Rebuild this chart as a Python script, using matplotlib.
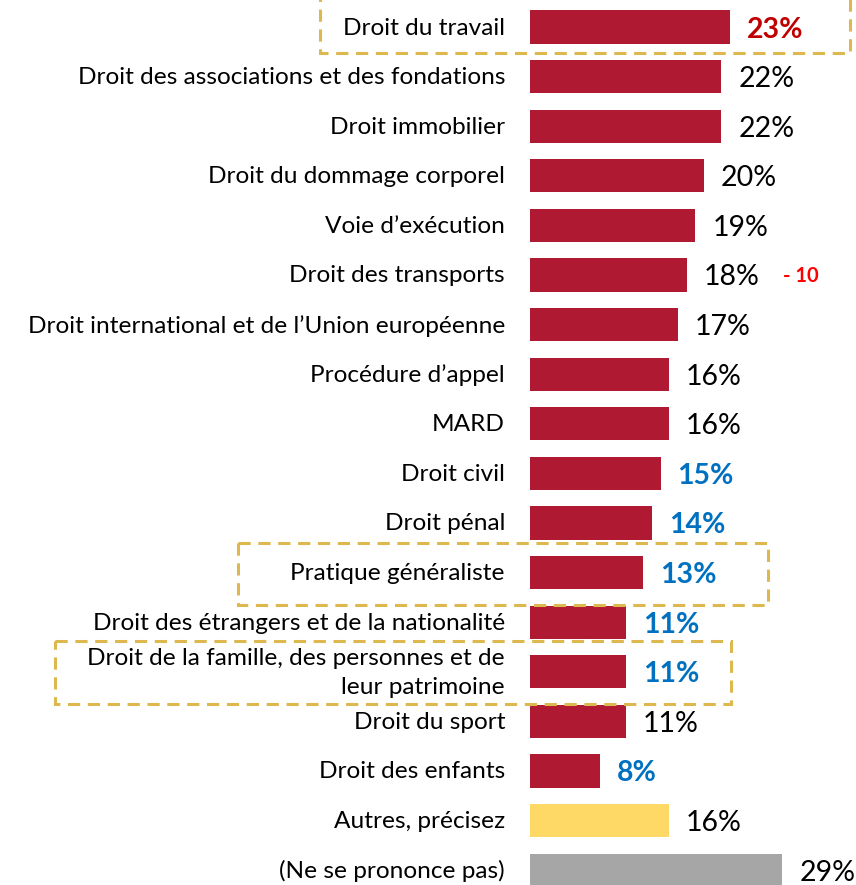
import matplotlib

matplotlib.use("Agg")
import matplotlib.pyplot as plt
from matplotlib.patches import Rectangle

categories = [
    "Droit du travail",
    "Droit des associations et des fondations",
    "Droit immobilier",
    "Droit du dommage corporel",
    "Voie d’exécution",
    "Droit des transports",
    "Droit international et de l’Union européenne",
    "Procédure d’appel",
    "MARD",
    "Droit civil",
    "Droit pénal",
    "Pratique généraliste",
    "Droit des étrangers et de la nationalité",
    "Droit de la famille, des personnes et de\nleur patrimoine",
    "Droit du sport",
    "Droit des enfants",
    "Autres, précisez",
    "(Ne se prononce pas)",
]
values = [23, 22, 22, 20, 19, 18, 17, 16, 16, 15, 14, 13, 11, 11, 11, 8, 16, 29]
# "+" significantly higher, "-" significantly lower, "" no difference
significance = ["+", "", "", "", "", "", "", "", "", "-", "-", "-", "-", "-", "", "-", "", ""]
# evolution notes shown next to some values
notes = {"Droit des transports": "- 10"}
kind = ["main"] * 16 + ["other", "nsp"]
highlighted = ["Droit du travail", "Pratique généraliste",
               "Droit de la famille, des personnes et de\nleur patrimoine"]

BAR_COLORS = {"main": "#B01932", "other": "#FFD966", "nsp": "#A6A6A6"}
SIG_STYLE = {"+": ("#C00000", "bold"), "-": ("#0070C0", "bold"), "": ("black", "normal")}
FONT = "Lato"

fig = plt.figure(figsize=(8.56, 8.85), dpi=100)
ax = fig.add_axes([0, 0, 1, 1])
px = 8.7  # pixels per percentage point
ax.set_xlim(-530 / px, 326 / px)
ax.set_ylim(17.30, -0.545)
ax.axis("off")

y = list(range(len(categories)))
ax.barh(y, values, height=0.67, color=[BAR_COLORS[k] for k in kind])

for i, (cat, v, s) in enumerate(zip(categories, values, significance)):
    ax.text(-25 / px, i + 0.02, cat, ha="right", va="center", fontsize=17.6,
            family=FONT, color="black", linespacing=1.45)
    color, weight = SIG_STYLE[s]
    ax.text(v + 17 / px, i + 0.05, f"{v}%", ha="left", va="center", fontsize=20.5,
            family=FONT, color=color, fontweight=weight)
    if cat in notes:
        ax.text(v + 96 / px, i + 0.03, notes[cat], ha="left", va="center", fontsize=14.5,
                family=FONT, color="#FF0000", fontweight="bold")

# dashed highlight boxes: (x_left, x_right, top offset, bottom offset) in pixels
box_extent = {
    "Droit du travail": (320, 850, 40, 26),
    "Pratique généraliste": (238, 768, 30, 32),
    "Droit de la famille, des personnes et de\nleur patrimoine": (55, 731, 31, 32),
}
row_px = 49.6
for cat in highlighted:
    i = categories.index(cat)
    x0, x1, up, down = box_extent[cat]
    ax.add_patch(Rectangle(((x0 - 530) / px, i - up / row_px), (x1 - x0) / px,
                           (up + down) / row_px, fill=False, edgecolor="#DDB84E",
                           linewidth=2.2, linestyle=(0, (4, 2.5)), clip_on=False))

fig.savefig("out.png", dpi=100)
